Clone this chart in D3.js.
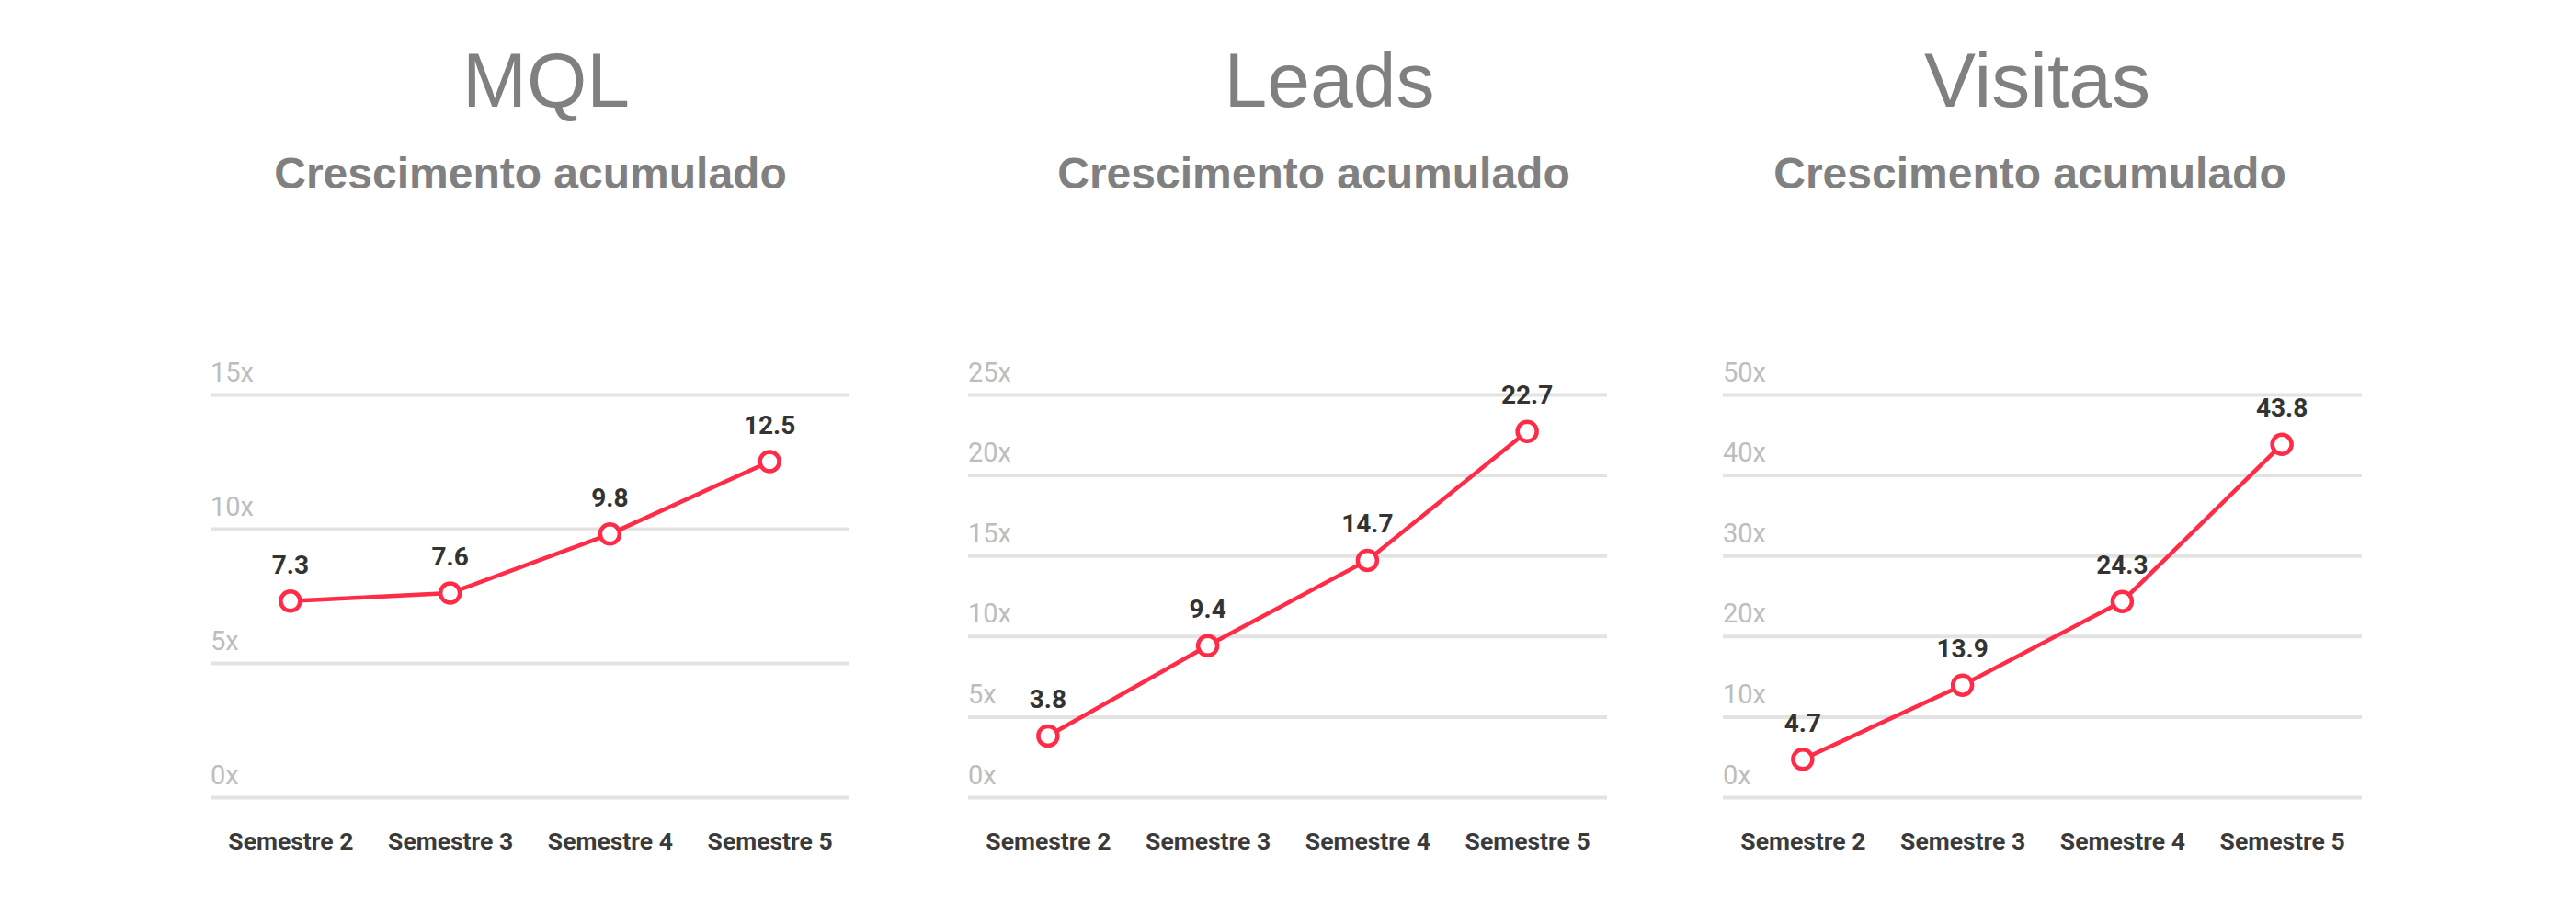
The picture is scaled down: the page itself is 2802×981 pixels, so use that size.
<!DOCTYPE html>
<html>
<head>
<meta charset="utf-8">
<script src="https://cdn.jsdelivr.net/npm/d3@7"></script>
<style>
  body { margin: 0; background: #fff; }
  svg { display: block; }
  .title { font-family: "Liberation Sans", Arial, sans-serif; fill: #808080; }
  .grid line { stroke: #e3e3e3; stroke-width: 4; }
  .grid text { font-family: Roboto, sans-serif; fill: #bdbdbd; font-size: 29px; }
  .xaxis text { font-family: Roboto, sans-serif; font-weight: bold; fill: #3a3a3a; font-size: 26.5px; }
  .value { font-family: Roboto, sans-serif; font-weight: bold; fill: #333; font-size: 28px; }
</style>
</head>
<body>
<script>
var categories = ["Semestre 2", "Semestre 3", "Semestre 4", "Semestre 5"];
var titles = ["MQL", "Leads", "Visitas"];
var subtitle = "Crescimento acumulado";
var mqlValues = [7.3, 7.6, 9.8, 12.5];
var leadsValues = [3.8, 9.4, 14.7, 22.7];
var visitasValues = [4.7, 13.9, 24.3, 43.8];
var mqlTicks = [0, 5, 10, 15];
var leadsTicks = [0, 5, 10, 15, 20, 25];
var visitasTicks = [0, 10, 20, 30, 40, 50];

var panels = [
    { title: titles[0], values: mqlValues, ticks: mqlTicks, left: 229, titleX: 594, subX: 577 },
    { title: titles[1], values: leadsValues, ticks: leadsTicks, left: 1053, titleX: 1446, subX: 1429 },
    { title: titles[2], values: visitasValues, ticks: visitasTicks, left: 1874, titleX: 2216, subX: 2208 }
];

var plotWidth = 695;
var plotTop = 429, plotBottom = 867;
var plotHeight = plotBottom - plotTop;
var red = "#ff2b47";

var svg = d3.select("body").append("svg")
    .attr("width", 2802)
    .attr("height", 981);

panels.forEach(function(p) {
    svg.append("text")
        .attr("class", "title")
        .attr("x", p.titleX).attr("y", 116)
        .attr("text-anchor", "middle")
        .style("font-size", "84px")
        .text(p.title);
    svg.append("text")
        .attr("class", "title")
        .attr("x", p.subX).attr("y", 205)
        .attr("text-anchor", "middle")
        .style("font-size", "48px")
        .style("font-weight", "bold")
        .text(subtitle);

    var x = d3.scalePoint().domain(categories).range([0, plotWidth]).padding(0.5);
    var y = d3.scaleLinear().domain([0, d3.max(p.ticks)]).range([plotHeight, 0]);

    var g = svg.append("g").attr("transform", "translate(" + p.left + "," + plotTop + ")");

    var grid = g.append("g").attr("class", "grid")
        .call(d3.axisRight(y).tickValues(p.ticks).tickSize(plotWidth)
            .tickFormat(function(d) { return d + "x"; }));
    grid.select(".domain").remove();
    grid.selectAll("text")
        .attr("x", 0).attr("y", -15).attr("dy", null)
        .attr("text-anchor", "start");

    var xa = g.append("g").attr("class", "xaxis")
        .attr("transform", "translate(0," + plotHeight + ")")
        .call(d3.axisBottom(x).tickSize(0));
    xa.select(".domain").remove();
    xa.selectAll("text").attr("y", 57).attr("dy", null);

    var line = d3.line()
        .x(function(d, i) { return x(categories[i]); })
        .y(function(d) { return y(d); });

    g.append("path")
        .datum(p.values)
        .attr("d", line)
        .attr("fill", "none")
        .attr("stroke", red)
        .attr("stroke-width", 4.5);

    g.selectAll(".dot")
        .data(p.values).enter().append("circle")
        .attr("class", "dot")
        .attr("cx", function(d, i) { return x(categories[i]); })
        .attr("cy", function(d) { return y(d); })
        .attr("r", 10.5)
        .attr("fill", "#fff")
        .attr("stroke", red)
        .attr("stroke-width", 4.5);

    g.selectAll(".value")
        .data(p.values).enter().append("text")
        .attr("class", "value")
        .attr("x", function(d, i) { return x(categories[i]); })
        .attr("y", function(d) { return y(d) - 30; })
        .attr("text-anchor", "middle")
        .text(function(d) { return d3.format(".1f")(d); });
});
</script>
</body>
</html>
